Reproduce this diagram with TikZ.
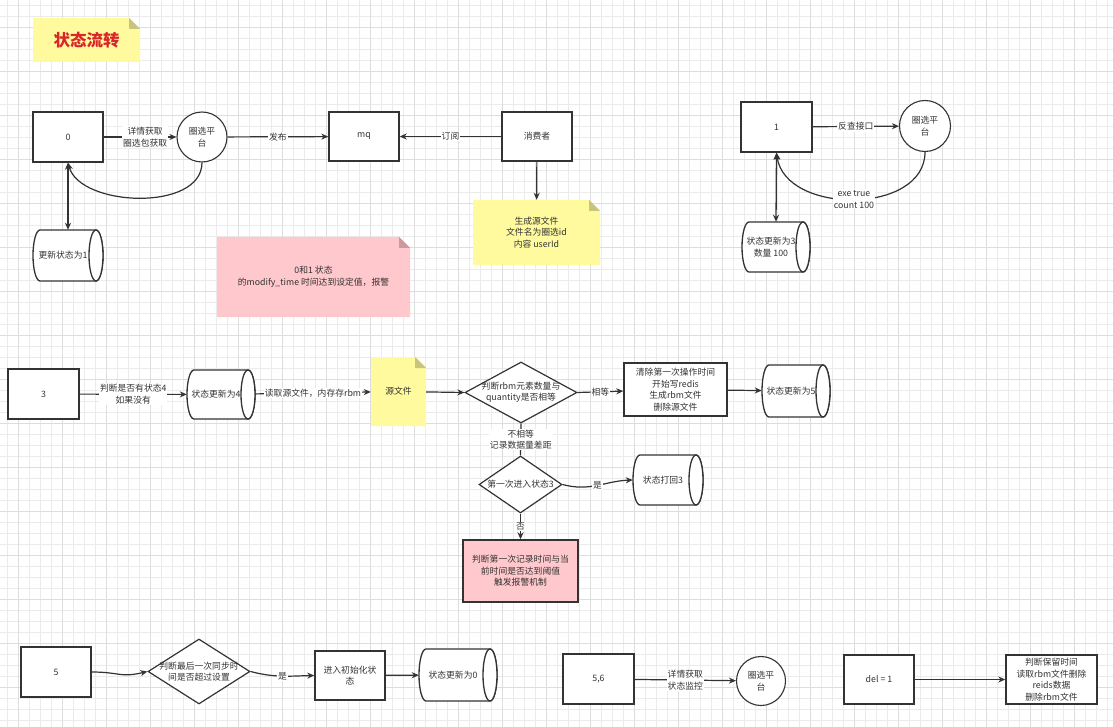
\documentclass[tikz,border=0pt]{standalone}
\usepackage{fontspec}
\setmainfont{Noto Sans CJK SC}
\usetikzlibrary{shapes.geometric,arrows.meta}
\definecolor{ln}{HTML}{333333}
\definecolor{gridminor}{HTML}{EBEBEB}
\definecolor{gridmajor}{HTML}{DDDDDD}
\definecolor{ynote}{HTML}{FFFA9E}
\definecolor{year}{HTML}{C9C47C}
\definecolor{pnote}{HTML}{FFC8CC}
\definecolor{pear}{HTML}{C99A9F}
\definecolor{titlered}{HTML}{D9262B}

\newcommand\mybox[7][]{%
 \pgfmathsetmacro\myW{#5-#3}\pgfmathsetmacro\myH{#6-#4}%
 \pgfmathsetmacro\myX{(#3+#5)/2}\pgfmathsetmacro\myY{(#4+#6)/2}%
 \node[box,minimum width=\myW pt,minimum height=\myH pt,#1] (#2) at (\myX,\myY) {#7};}

\newcommand\mycyl[6]{%
 \pgfmathsetmacro\myW{#4-#2}\pgfmathsetmacro\myH{#5-#3}%
 \pgfmathsetmacro\myX{(#2+#4)/2}\pgfmathsetmacro\myY{(#3+#5)/2}%
 \pgfmathsetmacro\myRY{(#5-#3)/2}%
 \filldraw[cylline] (#4-7,#3) -- (#2+7,#3) arc[start angle=90,end angle=270,x radius=7pt,y radius=\myRY pt] -- (#4-7,#5) arc[start angle=-90,end angle=90,x radius=7pt,y radius=\myRY pt] -- cycle;
 \draw[cylline] (#4-7,\myY) ellipse[x radius=7pt,y radius=\myRY pt];
 \node[inner sep=0pt,minimum width=\myW pt,minimum height=\myH pt] (#1) at (\myX,\myY) {};
 \node[align=center] at ([xshift=-5pt]#1.center) {#6};}

\newcommand\mynote[8]{%
 \pgfmathsetmacro\myW{#4-#2}\pgfmathsetmacro\myH{#5-#3}%
 \pgfmathsetmacro\myX{(#2+#4)/2}\pgfmathsetmacro\myY{(#3+#5)/2}%
 \fill[#6] (#2,#3) -- (#4-11,#3) -- (#4,#3+11) -- (#4,#5) -- (#2,#5) -- cycle;
 \fill[#7] (#4-11,#3) -- (#4-11,#3+11) -- (#4,#3+11) -- cycle;
 \node[inner sep=0pt,minimum width=\myW pt,minimum height=\myH pt,align=center] (#1) at (\myX,\myY) {#8};}

\newcommand\mydia[6]{%
 \node[dia,minimum width=#4pt,minimum height=#5pt] (#1) at (#2,#3) {};
 \node[align=center] at (#1.center) {#6};}

\tikzset{
 every node/.style={text=ln,font=\fontsize{8.8}{11.5}\selectfont},
 box/.style={draw=ln,line width=1.4pt,fill=white,inner sep=1pt,align=center},
 circ/.style={circle,draw=ln,line width=1.1pt,fill=white,inner sep=0pt,minimum size=50pt,align=center},
 cylline/.style={draw=ln,line width=1.3pt,fill=white},
 dia/.style={diamond,draw=ln,line width=1.2pt,fill=white,inner sep=0pt},
 arr/.style={draw=ln,line width=1.2pt,-{Stealth[length=7pt,width=6pt,inset=2.2pt]}},
 darr/.style={draw=ln,line width=1.3pt,{Stealth[length=7pt,width=6pt,inset=2.2pt]}-{Stealth[length=7pt,width=6pt,inset=2.2pt]}},
 plain/.style={draw=ln,line width=1.2pt},
 lbl/.style={fill=white,inner sep=1pt,align=center}
}

\begin{document}
\begin{tikzpicture}[x=1pt,y=-1pt]
\useasboundingbox (0,0) rectangle (1113,727);
\fill[white] (0,0) rectangle (1113,727);
% grid
\foreach \g in {7.3,18.3,...,1113} \draw[gridminor,line width=0.6pt] (\g,0) -- (\g,727);
\foreach \g in {5.7,16.7,...,727} \draw[gridminor,line width=0.6pt] (0,\g) -- (1113,\g);
\foreach \g in {18.3,62.3,...,1113} \draw[gridmajor,line width=0.6pt] (\g,0) -- (\g,727);
\foreach \g in {27.7,71.7,...,727} \draw[gridmajor,line width=0.6pt] (0,\g) -- (1113,\g);

% title note
\mynote{title}{33}{18}{140}{62}{ynote}{year}{\fontsize{16.5}{18}\selectfont\bfseries\color{titlered}状态流转}

% ---------- top row ----------
\mybox{b0}{33}{112}{103}{162}{0}
\node[circ] (c1) at (202,137) {圈选平\\台};
\mybox{mq}{329}{112}{399}{161}{mq}
\mybox{cons}{502}{112}{572}{161}{消费者}
\mycyl{u1}{33}{230}{103}{281}{更新状态为1}
\mynote{n1}{473}{200}{600}{265}{ynote}{year}{生成源文件\\文件名为圈选id\\内容 userId}
\mynote{pn}{217}{237}{410}{317}{pnote}{pear}{0和1 状态\\的modify\_time 时间达到设定值，报警}

\draw[arr] (b0) -- node[lbl,pos=0.57]{详情获取\\圈选包获取} (c1);
\draw[arr] (c1.south) .. controls (202,212) and (80,207) .. (b0.south);
\draw[darr] (b0.south) -- (u1.north);
\draw[arr] (c1) -- node[lbl]{发布} (mq);
\draw[arr] (cons) -- node[lbl]{订阅} (mq);
\draw[arr] (cons) -- (n1);

% top right
\mybox{b1}{741}{102}{812}{152}{1}
\node[circ,minimum size=51pt] (c2) at (925,126) {圈选平\\台};
\mycyl{u3}{742}{222}{810}{272}{状态更新为3\\数量 100}
\draw[arr] (b1) -- node[lbl]{反查接口} (c2);
\draw[arr] (c2.south) .. controls (925,215) and (785,215) .. node[lbl,pos=0.5]{exe true\\count 100} (b1.south);
\draw[darr] (b1.south) -- (u3.north);

% ---------- middle row ----------
\mybox{b3}{8}{369}{79}{419}{3}
\mycyl{u4}{187}{370}{255}{419}{状态更新为4}
\mynote{n2}{371}{357}{426}{426}{ynote}{year}{源文件}
\mydia{d1}{521}{392.5}{112}{61}{判断rbm元素数量与\\quantity是否相等}
\mybox{p1}{624}{363}{727}{416}{清除第一次操作时间\\开始写redis\\生成rbm文件\\删除源文件}
\mycyl{u5}{762}{365}{830}{417}{状态更新为5}
\mydia{d2}{520.5}{484.5}{83}{57}{第一次进入状态3}
\mycyl{u6}{633}{455}{703}{505}{状态打回3}
\mybox[fill=pnote]{p2}{463}{540}{578}{602}{判断第一次记录时间与当\\前时间是否达到阈值\\触发报警机制}

\draw[arr] (b3) -- node[lbl]{判断是否有状态4\\如果没有} (u4);
\draw[arr] (u4) -- node[lbl]{读取源文件，内存存rbm} (n2);
\draw[arr] (n2) -- (d1.west);
\draw[arr] (d1.east) -- node[lbl]{相等} (p1);
\draw[arr] (p1) -- (u5);
\draw[plain] (d1.south) -- node[lbl]{不相等\\记录数据量差距} (d2.north);
\draw[arr] (d2.east) .. controls (590,492) and (605,481) .. node[lbl,pos=0.5]{是} (u6.west);
\draw[arr] (d2.south) -- node[lbl]{否} (p2.north);

% ---------- bottom row ----------
\mybox{b5}{21}{647}{91}{697}{5}
\mydia{d3}{199}{671.5}{102}{65}{判断最后一次同步时\\间是否超过设置}
\mybox{p3}{315}{651}{385}{700}{进入初始化状\\态}
\mycyl{u0}{419}{649}{497}{701}{状态更新为0}
\draw[arr] (b5.east) .. controls (120,672) and (120,678) .. (d3.west);
\draw[arr] (d3.east) .. controls (275,678) and (290,676) .. node[lbl,pos=0.5]{是} (p3.west);
\draw[arr] (p3) -- (u0);

\mybox{b56}{563}{654}{634}{704}{5,6}
\node[circ,minimum size=49pt] (c3) at (761,681) {圈选平\\台};
\mybox{bdel}{844}{655}{914}{704}{del = 1}
\mybox{pdel}{1006}{655}{1097}{704}{判断保留时间\\读取rbm文件删除\\reids数据\\删除rbm文件}
\draw[arr] (b56) -- node[lbl]{详情获取\\状态监控} (c3);
\draw[arr] (bdel) -- (pdel);
\end{tikzpicture}
\end{document}
